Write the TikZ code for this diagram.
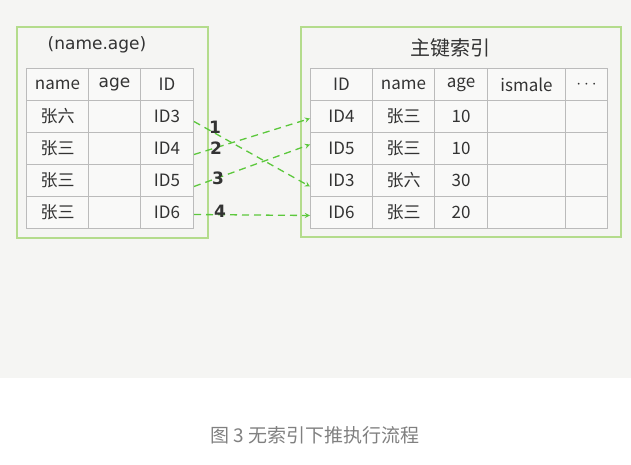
\documentclass[tikz,border=0pt]{standalone}
\usepackage{fontspec}
\setmainfont{DejaVu Sans}
\newfontfamily\cjk{Noto Sans CJK SC}
\usetikzlibrary{positioning}
\definecolor{bggray}{HTML}{F5F5F3}
\definecolor{boxgreen}{HTML}{B4DC8C}
\definecolor{arrgreen}{HTML}{5CC83C}
\definecolor{gridgray}{HTML}{BBBBBB}
\definecolor{txt}{HTML}{333333}
\tikzset{
  cell/.style={draw=gridgray, line width=1pt, fill=white!40!bggray, minimum height=32pt, inner sep=0pt,
    text=txt, font=\cjk\fontsize{17}{20}\selectfont, anchor=north west},
  link/.style={draw=arrgreen, line width=1.3pt, dash pattern=on 7pt off 5pt, ->, >=stealth},
  num/.style={text=txt, font=\fontsize{17}{20}\selectfont\bfseries}
}
\begin{document}
\begin{tikzpicture}[x=1pt,y=-1pt]
\fill[bggray] (0,0) rectangle (631,378);
\useasboundingbox (0,0) rectangle (631,465);

% left index
\draw[boxgreen, line width=1.4pt] (17,27) rectangle (208,238);
\node[text=txt, font=\fontsize{17}{20}\selectfont] (ltitle) at (97,45) {(name.age)};
\foreach \r/\a/\b/\c in {0/name//ID, 1/张六//ID3, 2/张三//ID4, 3/张三//ID5, 4/张三//ID6} {
  \node[cell, minimum width=62pt] (l-\r-1) at (26,68+32*\r) {\a};
  \node[cell, minimum width=52pt] (l-\r-2) at (88,68+32*\r) {\b};
  \node[cell, minimum width=53pt] (l-\r-3) at (140,68+32*\r) {\c};
}
\node[text=txt, font=\fontsize{17}{20}\selectfont] at (l-0-2) {age};

% primary key index
\draw[boxgreen, line width=1.4pt] (301,27) rectangle (621,237);
\node[text=txt, font=\cjk\fontsize{20}{24}\selectfont] (rtitle) at (450,48) {主键索引};
\foreach \r/\a/\b/\c/\d/\e in {0/ID/name/age/ismale/$\cdots$, 1/ID4/张三/10//, 2/ID5/张三/10//, 3/ID3/张六/30//, 4/ID6/张三/20//} {
  \node[cell, minimum width=62pt] (r-\r-1) at (310,68+32*\r) {\a};
  \node[cell, minimum width=62pt] (r-\r-2) at (372,68+32*\r) {\b};
  \node[cell, minimum width=53pt] (r-\r-3) at (434,68+32*\r) {\c};
  \node[cell, minimum width=78pt] (r-\r-4) at (487,68+32*\r) {\d};
  \node[cell, minimum width=42pt] (r-\r-5) at (565,68+32*\r) {\e};
}

% lookups
\draw[link] ([yshift=-5pt]l-1-3.east) -- ([yshift=-6pt]r-3-1.west);
\draw[link] ([yshift=-6pt]l-2-3.east) -- ([yshift=-2pt]r-1-1.west);
\draw[link] ([yshift=-6pt]l-3-3.east) -- ([yshift=4pt]r-2-1.west);
\draw[link] ([yshift=-2pt]l-4-3.east) -- ([yshift=-3pt]r-4-1.west);
\node[num] (n1) at (215,127) {1};
\node[num] (n2) at (216,148) {2};
\node[num] (n3) at (218,178) {3};
\node[num] (n4) at (220,211) {4};

\node[text=gray, font=\cjk\fontsize{19}{22}\selectfont] (caption) at (315,435) {图 3 无索引下推执行流程};
\end{tikzpicture}
\end{document}
